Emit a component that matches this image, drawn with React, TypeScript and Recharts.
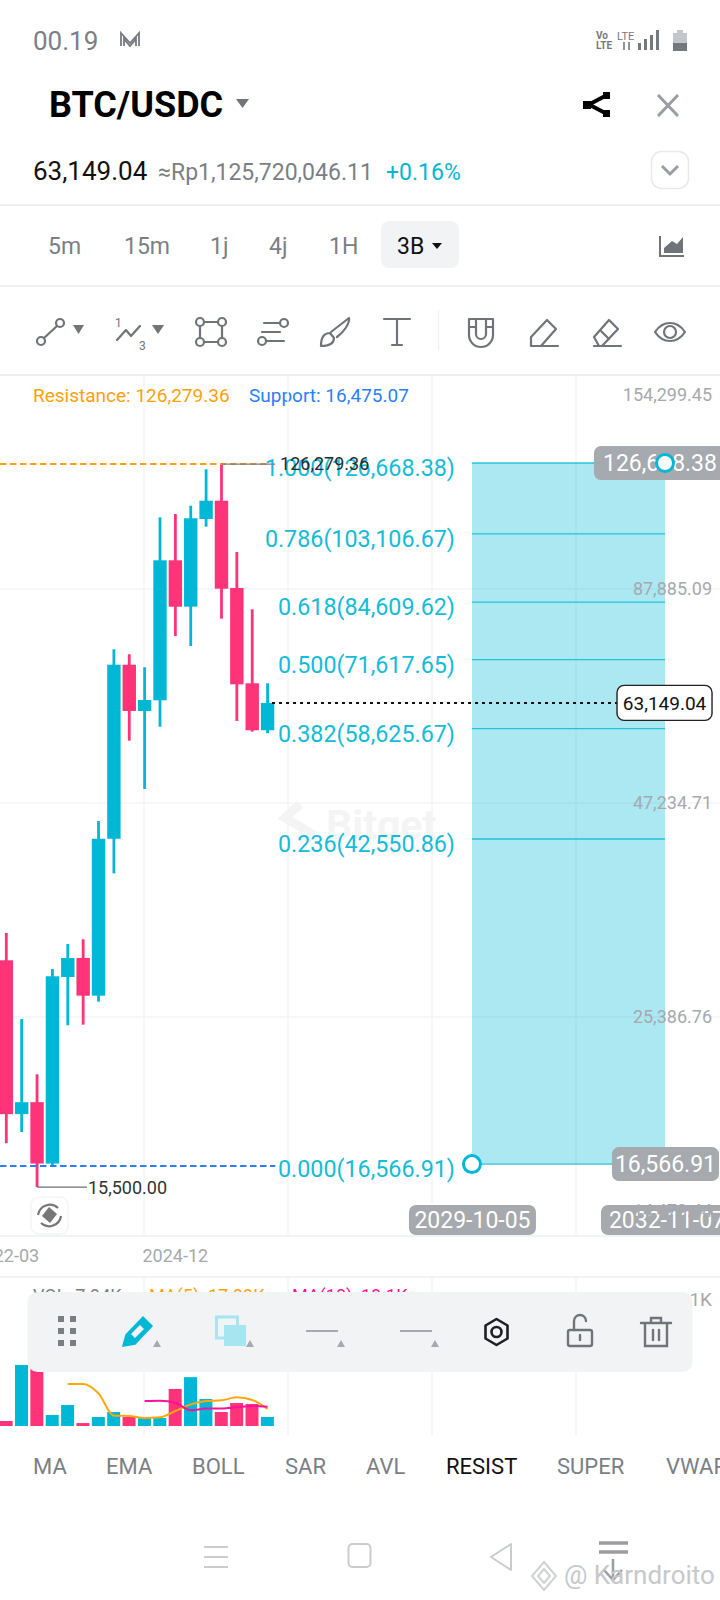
import React from 'react'
import {
  Bar,
  CartesianGrid,
  ComposedChart,
  Line,
  ReferenceArea,
  ReferenceDot,
  ReferenceLine,
  XAxis,
  YAxis,
} from 'recharts'

const quarters = [
  '2022-03', '2022-06', '2022-09', '2022-12', '2023-03', '2023-06',
  '2023-09', '2023-12', '2024-03', '2024-06', '2024-09', '2024-12',
  '2025-03', '2025-06', '2025-09', '2025-12', '2026-03', '2026-06',
]
const opens = [29925, 19150, 19826, 16593, 28510, 30127, 27007, 42580, 70555, 61688, 63630, 95513, 83490, 107680, 113545, 88140, 66845, 58330]
const highs = [32394, 25240, 21497, 29187, 31375, 31805, 44830, 73780, 72716, 70030, 108205, 109250, 111910, 124375, 126279.36, 97845, 82860, 66845]
const lows = [17604, 18183, 15500, 16478, 24784, 24827, 26541, 38503, 56598, 49198, 58945, 76680, 74495, 105295, 80625, 59930, 58090, 57830]
const closes = [19150, 19826, 16593, 28571, 30127, 27007, 42580, 70555, 61688, 63690, 95513, 83490, 107900, 113545, 87960, 66650, 58330, 63149.04]
const volumes = [4.4, 53.7, 51, 9.7, 18.5, 2.6, 7.9, 12.3, 7.9, 7, 7, 32.6, 43, 23.8, 12.3, 20.2, 19.4, 7.94]
const ma5 = [null, null, null, null, 37, 37, 28.7, 9.1, 8.8, 7, 7.6, 13.2, 19, 22, 22.6, 25.2, 22.9, 15]
const ma10 = [null, null, null, null, null, null, null, null, null, 22, 22.3, 20.5, 13.8, 15.3, 15.3, 16.4, 17.6, 17]

const priceTicks = [154299.45, 87885.09, 47234.71, 25386.76, 14470.44]
const priceGrid = [87885.09, 47234.71, 25386.76]
const fibRatios = ['1.000', '0.786', '0.618', '0.500', '0.382', '0.236', '0.000']
const fibPrices = [126668.38, 103106.67, 84609.62, 71617.65, 58625.67, 42550.86, 16566.91]
const lastPrice = 63149.04
const resistance = 126279.36
const support = 16475.07
const lowestLow = 15500

const rows = quarters.map((quarter, i) => ({
  i,
  quarter,
  open: opens[i],
  high: highs[i],
  low: lows[i],
  close: closes[i],
  range: [lows[i], highs[i]],
  vol: volumes[i],
  ma5: ma5[i],
  ma10: ma10[i],
}))

const TEAL = '#00b8d6'
const PINK = '#ff3378'
const ORANGE = '#ff9f0a'
const BLUE = '#2b7fff'
const GRID = '#f4f5f6'
const GREY = '#a6a9ad'
const TEXT_GREY = '#7b7f85'
const FONT = 'Roboto, sans-serif'

// fractional candle indexes, the axis runs on from the last candle into the future
const xDomain = [-0.41, 46.44]
const fibStart = 30.3
const fibEnd = 42.86
const money = (v: number) =>
  v.toLocaleString('en-US', { minimumFractionDigits: 2, maximumFractionDigits: 2 })

// bar rect spans low..high on a log axis, so body edges follow from it
function Candle(props: any) {
  const { x, y, width, height, payload } = props
  const perLog = height / Math.log(payload.high / payload.low)
  const at = (v: number) => y + Math.log(payload.high / v) * perLog
  const top = at(Math.max(payload.open, payload.close))
  const bottom = at(Math.min(payload.open, payload.close))
  const fill = payload.close >= payload.open ? TEAL : PINK
  return (
    <g>
      <rect x={x + width / 2 - 1.4} y={y} width={2.8} height={height} fill={fill} />
      <rect x={x} y={top} width={width} height={Math.max(bottom - top, 1)} fill={fill} />
    </g>
  )
}

function VolBar(props: any) {
  const { x, y, width, height, payload } = props
  return <rect x={x} y={y} width={width} height={height} fill={payload.close >= payload.open ? TEAL : PINK} />
}

function FibLabel({ viewBox, text }: any) {
  return (
    <text x={viewBox.x - 17} y={viewBox.y + 13} textAnchor="end" fill="#14bcd9" fontSize={23.3} fontFamily={FONT}>
      {text}
    </text>
  )
}

function Pill({ cx, cy, text, left, width, height, up = 0, fill = GREY, color = '#fff', size = 23, stroke }: any) {
  return (
    <g>
      <rect x={cx + left} y={cy - height / 2 + up} width={width} height={height} rx={7} fill={fill} stroke={stroke} strokeWidth={1.4} />
      <text x={cx + left + width / 2} y={cy + up + size * 0.35} textAnchor="middle" fontSize={size} fill={color} fontFamily={FONT}>
        {text}
      </text>
    </g>
  )
}

function PriceChart() {
  return (
    <ComposedChart
      width={720}
      height={901}
      data={rows}
      margin={{ top: 0, right: 0, bottom: 0, left: 0 }}
      style={{ position: 'absolute', left: 0, top: 375 }}
    >
      <CartesianGrid stroke={GRID} strokeWidth={1.5} horizontalValues={priceGrid} verticalPoints={[144, 288, 432, 576]} />
      <XAxis
        dataKey="i"
        type="number"
        domain={xDomain}
        allowDataOverflow
        ticks={[0, 11]}
        interval={0}
        height={40}
        axisLine={false}
        tickLine={false}
        tickSize={0}
        tickMargin={13}
        tickFormatter={(v) => quarters[v]}
        tick={{ fill: GREY, fontSize: 18, fontFamily: FONT }}
      />
      <YAxis
        orientation="right"
        mirror
        scale="log"
        domain={[13447, 163520]}
        allowDataOverflow
        ticks={priceTicks}
        interval={0}
        axisLine={false}
        tickLine={false}
        tickSize={0}
        tickMargin={8}
        tickFormatter={money}
        tick={{ fill: GREY, fontSize: 18, fontFamily: FONT }}
      />
      <ReferenceArea x1={fibStart} x2={fibEnd} y1={fibPrices[6]} y2={fibPrices[0]} fill={TEAL} fillOpacity={0.33} stroke="none" />
      {fibPrices.map((p, k) => (
        <ReferenceLine
          key={p}
          segment={[{ x: fibStart, y: p }, { x: fibEnd, y: p }]}
          stroke={TEAL}
          strokeOpacity={0.8}
          strokeWidth={1.3}
          label={<FibLabel text={`${fibRatios[k]}(${money(p)})`} />}
        />
      ))}
      <ReferenceLine segment={[{ x: -0.41, y: resistance }, { x: 17.16, y: resistance }]} stroke={ORANGE} strokeWidth={2} strokeDasharray="6.500 3.500" />
      <ReferenceLine segment={[{ x: 14, y: resistance }, { x: 17.49, y: resistance }]} stroke="#7d7f84" strokeWidth={1.2} />
      <ReferenceLine segment={[{ x: -0.41, y: support }, { x: 17.5, y: support }]} stroke={BLUE} strokeWidth={2} strokeDasharray="6.500 3.500" />
      <ReferenceLine segment={[{ x: 2, y: lowestLow }, { x: 5.25, y: lowestLow }]} stroke="#6d7075" strokeWidth={1.2} />
      <ReferenceLine segment={[{ x: 17.29, y: lastPrice }, { x: 39.74, y: lastPrice }]} stroke="#111" strokeWidth={2} strokeDasharray="3 4" />
      <Bar dataKey="range" barSize={13.4} shape={<Candle />} isAnimationActive={false} />
      <ReferenceDot x={17.49} y={resistance} shape={(p: any) => (
        <text x={p.cx + 5} y={p.cy + 6} fontSize={18} fill="#2a2a2a" fontFamily={FONT}>{money(resistance)}</text>
      )} />
      <ReferenceDot x={5.25} y={lowestLow} shape={(p: any) => (
        <text x={p.cx + 1} y={p.cy + 7} fontSize={18} fill="#333" fontFamily={FONT}>{money(lowestLow)}</text>
      )} />
      <ReferenceDot x={fibEnd} y={fibPrices[0]} shape={(p: any) => (
        <Pill cx={p.cx} cy={p.cy} up={0} left={-71} width={132} height={34} text={money(fibPrices[0])} />
      )} />
      <ReferenceDot x={fibEnd} y={fibPrices[6]} shape={(p: any) => (
        <Pill cx={p.cx} cy={p.cy} up={0} left={-53} width={107} height={34} text={money(fibPrices[6])} />
      )} />
      <ReferenceDot x={39.74} y={lastPrice} shape={(p: any) => (
        <Pill cx={p.cx} cy={p.cy} left={0} width={95} height={35} text={money(lastPrice)} fill="#fff" color="#111" size={19} stroke="#222" />
      )} />
      <ReferenceDot x={fibStart} y={13447} shape={(p: any) => (
        <Pill cx={p.cx} cy={p.cy} up={-16} left={-63} width={127} height={30} text="2029-10-05" />
      )} />
      <ReferenceDot x={fibEnd} y={13447} shape={(p: any) => (
        <Pill cx={p.cx} cy={p.cy} up={-16} left={-64} width={132} height={30} text="2032-11-07" />
      )} />
      <ReferenceDot x={fibEnd} y={fibPrices[0]} r={8.5} fill="#fff" stroke={TEAL} strokeWidth={3} />
      <ReferenceDot x={fibStart} y={fibPrices[6]} r={8.5} fill="#fff" stroke={TEAL} strokeWidth={3} />
    </ComposedChart>
  )
}

function VolumeChart() {
  return (
    <ComposedChart
      width={720}
      height={159}
      data={rows}
      margin={{ top: 0, right: 0, bottom: 0, left: 0 }}
      style={{ position: 'absolute', left: 0, top: 1277 }}
    >
      <CartesianGrid stroke={GRID} strokeWidth={1.5} horizontal={false} verticalPoints={[144, 288, 432, 576]} />
      <XAxis dataKey="i" type="number" domain={xDomain} allowDataOverflow hide />
      <YAxis
        orientation="right"
        mirror
        domain={[-8.8, 131.1]}
        allowDataOverflow
        ticks={[111.1]}
        interval={0}
        axisLine={false}
        tickLine={false}
        tickSize={0}
        tickMargin={8}
        tickFormatter={(v) => `${v}K`}
        tick={{ fill: GREY, fontSize: 19, fontFamily: FONT }}
      />
      <Bar dataKey="vol" barSize={13} shape={<VolBar />} isAnimationActive={false} />
      <Line dataKey="ma5" type="monotone" stroke="#ffa60a" strokeWidth={2} dot={false} isAnimationActive={false} />
      <Line dataKey="ma10" type="monotone" stroke="#ff0f9d" strokeWidth={2} dot={false} isAnimationActive={false} />
    </ComposedChart>
  )
}

function T({ x, y, size, color = TEXT_GREY, weight = 400, children }: any) {
  return (
    <span
      style={{
        position: 'absolute',
        left: x,
        top: y,
        transform: 'translateY(-50%)',
        fontSize: size,
        color,
        fontWeight: weight,
        lineHeight: 1,
        whiteSpace: 'nowrap',
      }}
    >
      {children}
    </span>
  )
}

function Rule({ y, h = 1.5, color = '#eeeff1' }: any) {
  return <div style={{ position: 'absolute', left: 0, top: y, width: 720, height: h, background: color }} />
}

const iconLine = { fill: 'none', stroke: '#707479', strokeWidth: 2.2, strokeLinecap: 'round', strokeLinejoin: 'round' } as const

// all the phone chrome icons in one page-sized layer
function Icons() {
  return (
    <svg width={720} height={1600} style={{ position: 'absolute', left: 0, top: 0 }}>
      {/* status bar */}
      <path d="M121 46V33l9 10 9-10v13M124 46V39l6 7 6-7v7" fill="none" stroke="#75797e" strokeWidth={1.8} />
      <text x={596} y={39} fontSize={10} fontWeight={700} fill="#75797e" fontFamily={FONT}>Vo</text>
      <text x={596} y={49} fontSize={10} fontWeight={700} fill="#75797e" fontFamily={FONT}>LTE</text>
      <text x={617} y={40} fontSize={11} fill="#75797e" fontFamily={FONT}>LTE</text>
      <path d="M624 42v8M629 42v8" stroke="#75797e" strokeWidth={1.6} />
      <path d="M638 50v-7h3v7zM644 50v-11h3v11zM650 50v-15h3v15zM656 50v-20h3v20z" fill="#75797e" />
      <path d="M673 33h4v-3h6v3h4v10h-14z" fill="#c4c6c9" />
      <rect x={673} y={43} width={14} height={8} fill="#75797e" />

      {/* header */}
      <path d="M236 99h13l-6.5 9z" fill="#707479" />
      <path d="M609 94l-20 10.5 20 10.5" fill="none" stroke="#000" strokeWidth={4} />
      <rect x={603} y={92} width={7} height={7} fill="#000" />
      <rect x={603} y={110} width={7} height={7} fill="#000" />
      <rect x={583} y={101} width={8} height={8} fill="#000" />
      <path d="M658 95l20 21M678 95l-20 21" stroke="#9a9da1" strokeWidth={3} />
      <rect x={651.5} y={151.5} width={37} height={37} rx={10} fill="none" stroke="#e8e9eb" strokeWidth={1.5} />
      <path d="M662 166l8 8 8-8" fill="none" stroke="#9a9da1" strokeWidth={3} />

      {/* interval row */}
      <rect x={381} y={221} width={78} height={47} rx={8} fill="#f2f3f5" />
      <path d="M432 243h10l-5 6z" fill="#111" />
      <path d="M660 236v20h24" fill="none" stroke="#707479" strokeWidth={2} />
      <path d="M664 253v-5l8-7 5 3 6-7v16z" fill="#707479" />

      {/* drawing tools */}
      <g {...iconLine}>
        <circle cx={41} cy={341} r={4} />
        <circle cx={60} cy={323} r={4} />
        <path d="M44 338l13-12" />
        <path d="M117 340l9-10 5 6 9-10" />
        <rect x={200} y={322} width={22} height={20} />
        <circle cx={200} cy={322} r={4} fill="#fff" />
        <circle cx={222} cy={322} r={4} fill="#fff" />
        <circle cx={200} cy={342} r={4} fill="#fff" />
        <circle cx={222} cy={342} r={4} fill="#fff" />
        <circle cx={284} cy={323} r={4} />
        <path d="M264 323h16M262 332h18" />
        <circle cx={262} cy={341} r={4} />
        <path d="M266 341h18" />
        <path d="M321 346c0-8 2-13 9-13l4 5c0 6-6 8-13 8zM331 332l18-14c1 5-5 14-12 19" />
        <path d="M384 319h26M397 319v26M392 345h10" />
        <path d="M469 319h24v16a12 12 0 0 1-24 0zM469 327h7M486 327h7M476 319v15a5 5 0 0 0 10 0v-15" />
        <path d="M531 346h27M531 346v-9l16-17 9 9-15 17" />
        <path d="M594 346h27M594 337l15-17 9 9-16 17h-3zM600 330l9 9" />
        <path d="M655 332c8-12 22-12 30 0-8 12-22 12-30 0z" />
        <circle cx={670} cy={332} r={6} />
      </g>
      <path d="M73 325h11l-5.5 9zM152 325h12l-6 9z" fill="#707479" />
      <text x={115} y={327} fontSize={12} fill="#707479" fontFamily={FONT}>1</text>
      <text x={139} y={350} fontSize={12} fill="#707479" fontFamily={FONT}>3</text>
      <path d="M438.500 310v40" stroke="#eeeff1" strokeWidth={1} />

      {/* Bitget mark under the chart */}
      <path d="M300 804l-15 14 24 14-10 8" fill="none" stroke="#f4f4f5" strokeWidth={9} />
      <text x={326} y={839} fontSize={41} fontWeight={700} fill="#f4f4f5" fontFamily={FONT}>Bitget</text>

      {/* rotate button */}
      <rect x={31} y={1197} width={37} height={37} rx={8} fill="#fff" stroke="#f4f5f6" strokeWidth={1.5} />
      <path d="M38 1215a12 12 0 0 1 20-7M61 1216a12 12 0 0 1-20 7" fill="none" stroke="#777" strokeWidth={2.2} />
      <path d="M49 1207l8 7-7 9-8-7z" fill="#777" />
    </svg>
  )
}

function Toolbar() {
  return (
    <svg width={720} height={90} style={{ position: 'absolute', left: 0, top: 1290 }}>
      <rect x={27.500} y={2} width={665} height={80} rx={10} fill="#f2f3f5" />
      <path
        d="M58 26h6v6h-6zM70 26h6v6h-6zM58 38h6v6h-6zM70 38h6v6h-6zM58 50h6v6h-6zM70 50h6v6h-6z"
        fill="#7a7d82"
      />
      <path d="M123 56l3-11 17-18 9 9-17 18zM129 45l6 6" fill={TEAL} stroke={TEAL} strokeWidth={1.5} />
      <path d="M131 44l9-9 4 4-9 9z" fill="#f2f3f5" />
      <rect x={216.500} y={27} width={21} height={21} fill="none" stroke="#a6e6f1" strokeWidth={3} />
      <rect x={224} y={35} width={22} height={21} fill="#a6e6f1" />
      <path d="M306 41h32M400 41h32" stroke="#a6a9ad" strokeWidth={2} />
      <path d="M153 57l4-7 4 7zM246 57l4-7 4 7zM337 57l4-7 4 7zM431 57l4-7 4 7z" fill="#a6a9ad" />
      <g fill="none" stroke="#1d1f22" strokeWidth={2.6} strokeLinejoin="round">
        <path d="M496.500 29l11 6.500v13l-11 6.500-11-6.500v-13z" />
        <circle cx={496.500} cy={42} r={5} />
      </g>
      <g fill="none" stroke="#707479" strokeWidth={2.4} strokeLinecap="round">
        <rect x={568} y={40} width={24} height={16} rx={2} />
        <path d="M574 40v-9a6 6 0 0 1 12 0M580 45v5" />
        <path d="M641 33h30M651 33v-5h10v5M645 33v23h22V33M653 40v10M659 40v10" />
      </g>
    </svg>
  )
}

function NavBar() {
  return (
    <svg width={720} height={90} style={{ position: 'absolute', left: 0, top: 1510 }}>
      <path d="M204 37h24M204 47h24M204 57h24" stroke="#c9cbce" strokeWidth={2} />
      <rect x={348.500} y={34} width={22} height={23} rx={4} fill="none" stroke="#c9cbce" strokeWidth={2} />
      <path d="M511 34l-20 13 20 13z" fill="none" stroke="#c9cbce" strokeWidth={2} strokeLinejoin="round" />
      <path d="M599 33h29M599 42h29" stroke="#9b9da0" strokeWidth={3.500} />
      <path d="M613 49v22M604 60l9 10 9-10" fill="none" stroke="#9b9da0" strokeWidth={2.500} />
      <path d="M544 52l12 14-12 14-12-14zM544 59l6 7-6 7-6-7z" fill="none" stroke="#cfd1d3" strokeWidth={2} />
    </svg>
  )
}

export default function App() {
  return (
    <div
      style={{
        position: 'absolute',
        left: 0,
        top: 0,
        width: 720,
        height: 1600,
        overflow: 'hidden',
        background: '#fff',
        fontFamily: FONT,
      }}
    >
      <Rule y={204} />
      <Rule y={285} />
      <Rule y={374} />
      <Rule y={1235} h={2} color="#f2f3f4" />
      <Rule y={1276} h={2} color="#f2f3f4" />
      <Icons />

      <T x={33} y={41} size={26}>00.19</T>
      <T x={49} y={105} size={36} color="#000" weight={700}>BTC/USDC</T>
      <T x={33} y={171} size={26} color="#111">63,149.04</T>
      <T x={158} y={172} size={23}>≈Rp1,125,720,046.11</T>
      <T x={386} y={172} size={23} color={TEAL}>+0.16%</T>

      <T x={48} y={246} size={23}>5m</T>
      <T x={124} y={246} size={23}>15m</T>
      <T x={210} y={246} size={23}>1j</T>
      <T x={269} y={246} size={23}>4j</T>
      <T x={329} y={246} size={23}>1H</T>
      <T x={397} y={246} size={23} color="#111">3B</T>

      <T x={33} y={395} size={19} color={ORANGE}>Resistance: 126,279.36</T>
      <T x={249} y={395} size={19} color={BLUE}>Support: 16,475.07</T>

      <PriceChart />

      <T x={33} y={1296} size={18}>VOL: 7.94K</T>
      <T x={149} y={1296} size={18} color={ORANGE}>MA(5): 17.99K</T>
      <T x={292} y={1296} size={18} color="#ff0f9d">MA(10): 19.1K</T>
      <VolumeChart />
      <Toolbar />

      {['MA', 'EMA', 'BOLL', 'SAR', 'AVL', 'RESIST', 'SUPER', 'VWAP'].map((name, k) => (
        <T
          key={name}
          x={[33, 106, 192, 285, 366, 446, 557, 666][k]}
          y={1467}
          size={22}
          color={name === 'RESIST' ? '#111' : TEXT_GREY}
        >
          {name}
        </T>
      ))}

      <NavBar />
      <T x={564} y={1575} size={26} color="#c6c8ca">@ Karndroito</T>
    </div>
  )
}
